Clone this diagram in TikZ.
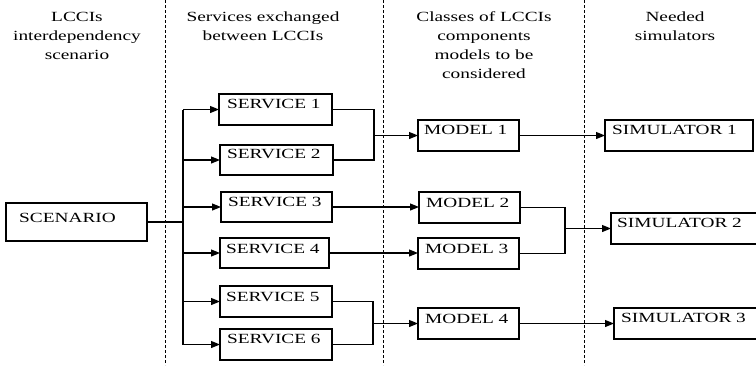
\documentclass[tikz,border=0pt]{standalone}
\usepackage{fontspec}
\setmainfont{Liberation Serif}
\usepackage{graphicx}
\usetikzlibrary{arrows.meta,calc}

% wide lettering used throughout the figure
\newcommand\hstretch[1]{\scalebox{1.38}[1]{#1}}
% \mkbox{name}{x1}{y1}{x2}{y2}{text dx}{text dy}{text}
\newcommand\mkbox[8]{%
  \node[box, minimum width={#4-#2}, minimum height={#5-#3}] (#1) at ({(#2+#4)/2},{(#3+#5)/2}) {};
  \node[lbl, anchor=base west] (#1-t) at ($(#1.north west)+(#6,#7)$) {\hstretch{#8}};}

\begin{document}
\begin{tikzpicture}[x=1pt,y=-1pt,
  font=\fontsize{14}{19}\selectfont,
  box/.style={draw, line width=1.2pt, inner sep=0pt, outer sep=0pt},
  lbl/.style={inner sep=0pt},
  hdr/.style={inner sep=0pt, anchor=base},
  sep/.style={dash pattern=on 3pt off 2pt, line width=0.9pt},
  link/.style={line width=1.1pt},
  arr/.style={link, -{Triangle[length=9pt,width=7pt]}},
  trunk/.style={line width=1.8pt}]
\useasboundingbox (0,0) rectangle (756,365);
\clip (0,0) rectangle (756,365);

% column separators
\draw[sep] (165,0) -- (165,365);
\draw[sep] (383,0) -- (383,365);
\draw[sep] (584,0) -- (584,365);

% column headings
\node[hdr] (h1) at (77,21) {\hstretch{\begin{tabular}[t]{@{}c@{}}LCCIs\\interdependency\\scenario\end{tabular}}};
\node[hdr] (h2) at (263,21) {\hstretch{\begin{tabular}[t]{@{}c@{}}Services exchanged\\between LCCIs\end{tabular}}};
\node[hdr] (h3) at (484,21) {\hstretch{\begin{tabular}[t]{@{}c@{}}Classes of LCCIs\\components\\models to be\\considered\end{tabular}}};
\node[hdr] (h4) at (675,21) {\hstretch{\begin{tabular}[t]{@{}c@{}}Needed\\simulators\end{tabular}}};

% boxes
\mkbox{scen}{6}{203}{147}{241}{13}{19}{SCENARIO}
\mkbox{s1}{219}{94}{332}{125}{8}{14}{SERVICE 1}
\mkbox{s2}{220}{145}{333}{175}{7}{13}{SERVICE 2}
\mkbox{s3}{221}{192}{332}{222}{7}{14}{SERVICE 3}
\mkbox{s4}{220}{238}{329}{268}{6}{15}{SERVICE 4}
\mkbox{s5}{220}{286}{332}{317}{6}{15}{SERVICE 5}
\mkbox{s6}{220}{329}{332}{360}{7}{14}{SERVICE 6}
\mkbox{m1}{418}{120}{519}{151}{6}{14}{MODEL 1}
\mkbox{m2}{419}{192}{520}{223}{7}{15}{MODEL 2}
\mkbox{m3}{418}{238}{519}{269}{7}{15}{MODEL 3}
\mkbox{m4}{418}{308}{519}{339}{7}{15}{MODEL 4}
\mkbox{sim1}{605}{120}{753}{151}{7}{14}{SIMULATOR 1}
\mkbox{sim2}{611}{213}{760}{244}{6}{14}{SIMULATOR 2}
\mkbox{sim3}{614}{308}{760}{339}{7}{14}{SIMULATOR 3}

% scenario fans out to the services
\coordinate (tr) at (183,223);
\draw[link] (scen.east) -- (scen.east -| tr);
\draw[trunk] (tr |- s1.west) -- (tr |- s6.west);
\foreach \s in {s1,s2,s3,s4,s5,s6}
  \draw[arr] (tr |- \s.west) -- (\s.west);

% services to models
\coordinate (j1) at ($(m1.west)+(-44,0)$);
\draw[link] (s1.east) -| (j1) |- (s2.east);
\draw[arr] (j1) -- (m1.west);
\draw[arr] (s3.east) -- (s3.east -| m2.west);
\draw[arr] (s4.east) -- (s4.east -| m3.west);
\coordinate (j2) at ($(m4.west)+(-45,0)$);
\draw[link] (s5.east) -| (j2) |- (s6.east);
\draw[arr] (j2) -- (m4.west);

% models to simulators
\draw[arr] (m1.east) -- (sim1.west);
\coordinate (j3) at ($(sim2.west)+(-46,0)$);
\draw[link] (m2.east) -| (j3) |- (m3.east);
\draw[arr] (j3) -- (sim2.west);
\draw[arr] (m4.east) -- (m4.east -| sim3.west);
\end{tikzpicture}
\end{document}
